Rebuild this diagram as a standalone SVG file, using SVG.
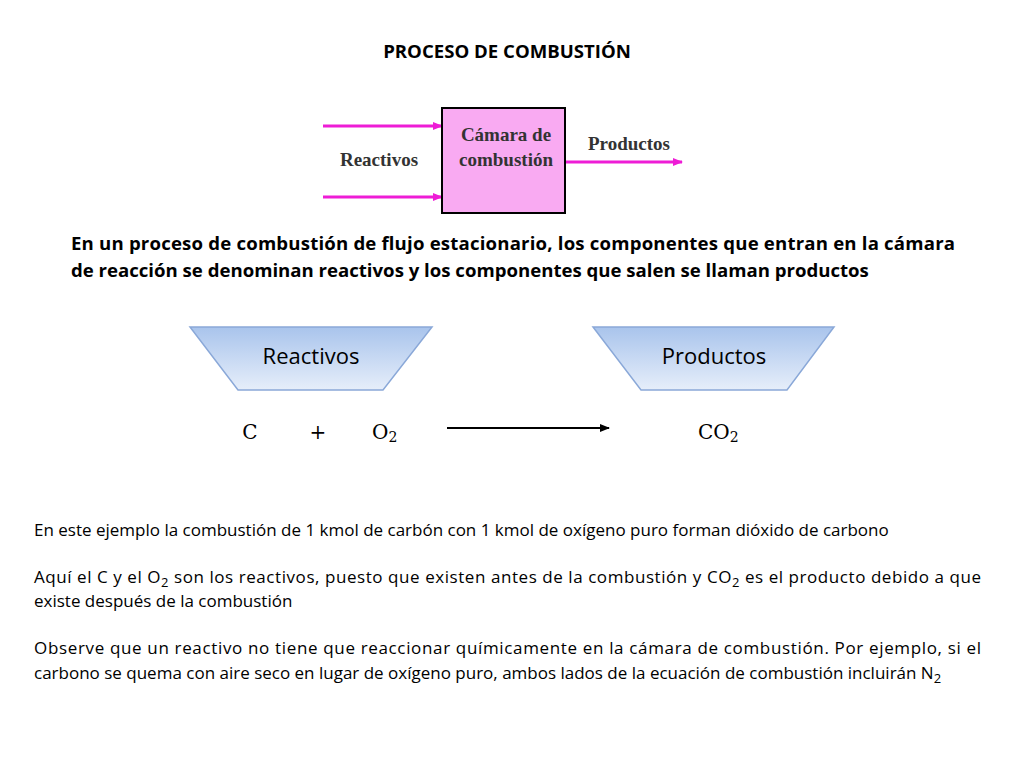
<svg xmlns="http://www.w3.org/2000/svg" width="1024" height="768" viewBox="0 0 1024 768">
<defs>
<linearGradient id="g" x1="0" y1="0" x2="0" y2="1"><stop offset="0" stop-color="#a9c4ec"/><stop offset="1" stop-color="#e6eefa"/></linearGradient>
<marker id="pm" markerWidth="10" markerHeight="8" refX="9" refY="4" orient="auto" markerUnits="userSpaceOnUse"><path d="M0,0 L10,4 L0,8 z" fill="#ee1cd6"/></marker>
<marker id="bm" markerWidth="10" markerHeight="8" refX="9" refY="4" orient="auto" markerUnits="userSpaceOnUse"><path d="M0,0 L10,4 L0,8 z" fill="#000"/></marker>
<style>
.s{font-family:"Liberation Serif",serif;font-weight:bold;fill:#333;font-size:19px}
.c{font-family:"Open Sans","Liberation Sans",sans-serif;font-size:17px;fill:#000}
.b{font-family:"Open Sans","Liberation Sans",sans-serif;font-weight:bold;font-size:18.6px;fill:#000}
.t{font-family:"Open Sans","Liberation Sans",sans-serif;font-size:22px;fill:#000}
.m{font-family:"DejaVu Serif",serif;font-size:20px;fill:#000}
.pl{stroke:#ee1cd6;stroke-width:3;fill:none}
</style>
</defs>
<rect width="1024" height="768" fill="#fff"/>
<text x="507" y="58" class="b" text-anchor="middle" font-size="24">PROCESO DE COMBUSTIÓN</text>
<g id="connectors">
<line x1="323" y1="126" x2="442" y2="126" class="pl" marker-end="url(#pm)"/>
<line x1="323" y1="197" x2="442" y2="197" class="pl" marker-end="url(#pm)"/>
<line x1="565" y1="162" x2="682" y2="162" class="pl" marker-end="url(#pm)"/>
<line x1="447" y1="428" x2="609" y2="428" stroke="#000" stroke-width="2" marker-end="url(#bm)"/>
</g>
<g id="chamber">
<rect x="442" y="108" width="123" height="105" fill="#f9aaf2" stroke="#000" stroke-width="2"/>
<text x="506" y="141" class="s" text-anchor="middle" font-size="17">Cámara de</text>
<text x="506" y="166" class="s" text-anchor="middle" font-size="17">combustión</text>
</g>
<text x="379" y="166" class="s" text-anchor="middle" font-size="18">Reactivos</text>
<text x="629" y="150" class="s" text-anchor="middle" font-size="18">Productos</text>
<text x="71" y="250" class="b" textLength="884">En un proceso de combustión de flujo estacionario, los componentes que entran en la cámara</text>
<text x="71" y="277" class="b">de reacción se denominan reactivos y los componentes que salen se llaman productos</text>
<g id="reactivos">
<path d="M190,327 L432,327 L383,390 L238,390 Z" fill="url(#g)" stroke="#8aa8d8" stroke-width="1.5"/>
<text x="311" y="364" class="t" text-anchor="middle">Reactivos</text>
</g>
<g id="productos">
<path d="M593,327 L834,327 L787,390 L641,390 Z" fill="url(#g)" stroke="#8aa8d8" stroke-width="1.5"/>
<text x="714" y="364" class="t" text-anchor="middle">Productos</text>
</g>
<text x="250" y="439" class="m" text-anchor="middle">C</text>
<text x="318" y="439" class="m" text-anchor="middle">+</text>
<text x="372" y="439" class="m">O<tspan font-size="14" dy="3">2</tspan></text>
<text x="698" y="439" class="m">CO<tspan font-size="14" dy="3">2</tspan></text>
<text x="34" y="536" class="c">En este ejemplo la combustión de 1 kmol de carbón con 1 kmol de oxígeno puro forman dióxido de carbono</text>
<text x="34" y="583" class="c" textLength="947">Aquí el C y el O<tspan dy="4" font-size="13">2</tspan><tspan dy="-4"> son los reactivos, puesto que existen antes de la combustión y CO</tspan><tspan dy="4" font-size="13">2</tspan><tspan dy="-4"> es el producto debido a que</tspan></text>
<text x="34" y="607" class="c">existe después de la combustión</text>
<text x="34" y="654" class="c" textLength="947">Observe que un reactivo no tiene que reaccionar químicamente en la cámara de combustión. Por ejemplo, si el</text>
<text x="34" y="679" class="c">carbono se quema con aire seco en lugar de oxígeno puro, ambos lados de la ecuación de combustión incluirán N<tspan dy="4" font-size="13">2</tspan></text>
</svg>
